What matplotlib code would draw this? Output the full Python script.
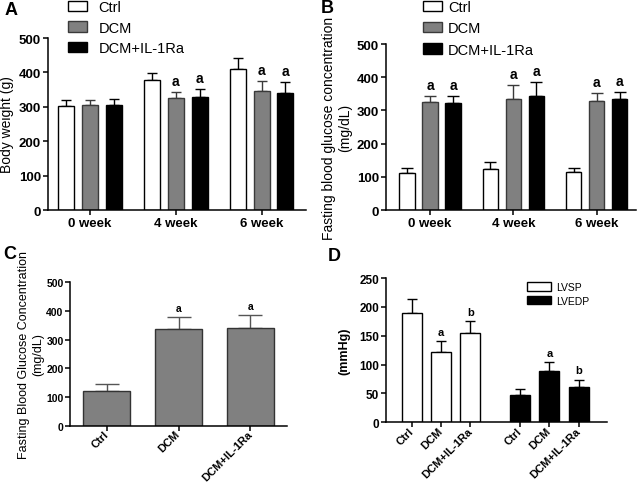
import matplotlib
matplotlib.use("Agg")
import matplotlib.pyplot as plt
import numpy as np

plt.rcParams['font.family'] = ['Liberation Sans', 'DejaVu Sans']

# ---------------- data ----------------
weeks = ["0 week", "4 week", "6 week"]
groups = ["Ctrl", "DCM", "DCM+IL-1Ra"]

bw_mean = {"Ctrl": [302, 377, 411], "DCM": [305, 325, 345], "DCM+IL-1Ra": [305, 328, 340]}
bw_err = {"Ctrl": [17, 22, 31], "DCM": [16, 18, 30], "DCM+IL-1Ra": [18, 23, 31]}
bw_sig = {"Ctrl": ["", "", ""], "DCM": ["", "a", "a"], "DCM+IL-1Ra": ["", "a", "a"]}

glu_mean = {"Ctrl": [112, 122, 113], "DCM": [325, 335, 329], "DCM+IL-1Ra": [323, 342, 333]}
glu_err = {"Ctrl": [16, 22, 15], "DCM": [19, 42, 23], "DCM+IL-1Ra": [21, 43, 23]}
glu_sig = {"Ctrl": ["", "", ""], "DCM": ["a", "a", "a"], "DCM+IL-1Ra": ["a", "a", "a"]}

c_labels = ["Ctrl", "DCM", "DCM+IL-1Ra"]
c_mean = [122, 336, 342]
c_err = [23, 44, 45]
c_sig = ["", "a", "a"]

d_labels = ["Ctrl", "DCM", "DCM+IL-1Ra"]
lvsp_mean = [189, 121, 155]
lvsp_err = [25, 20, 21]
lvsp_sig = ["", "a", "b"]
lvedp_mean = [47, 89, 62]
lvedp_err = [10, 15, 12]
lvedp_sig = ["", "a", "b"]

# ---------------- styles ----------------
GRAY = "#808080"
fill = {"Ctrl": "white", "DCM": GRAY, "DCM+IL-1Ra": "black"}
edge = {"Ctrl": "black", "DCM": "#3a3a3a", "DCM+IL-1Ra": "black"}
ecol = {"Ctrl": "black", "DCM": "#3a3a3a", "DCM+IL-1Ra": "black"}

W, H = 638, 489
fig = plt.figure(figsize=(W / 100, H / 100), dpi=100)


def px_axes(l, t, r, b):
    return fig.add_axes([l / W, 1 - b / H, (r - l) / W, (b - t) / H])


def style_axes(ax, ticksize, pad=1.5):
    for s in ["top", "right"]:
        ax.spines[s].set_visible(False)
    for s in ["left", "bottom"]:
        ax.spines[s].set_linewidth(1.1)
    ax.tick_params(axis="both", direction="out", length=3.6, width=1.1,
                   labelsize=ticksize, pad=pad)
    for lab in ax.get_yticklabels() + ax.get_xticklabels():
        lab.set_fontweight("bold")


def grouped(ax, means, errs, sigs, capsize, sigsize):
    offs = [-0.276, 0, 0.276]
    x = np.arange(len(weeks))
    for g, o in zip(groups, offs):
        ax.bar(x + o, means[g], width=0.186, color=fill[g], edgecolor=edge[g],
               linewidth=1.0, zorder=2)
        ax.errorbar(x + o, means[g], yerr=[np.zeros(len(weeks)), errs[g]],
                    fmt="none", ecolor=ecol[g], elinewidth=1.0, capsize=capsize,
                    capthick=1.0, zorder=1)
        for xi, m, e, s in zip(x + o, means[g], errs[g], sigs[g]):
            if s:
                ax.annotate(s, (xi, m + e), xytext=(0, 3), textcoords="offset points",
                            ha="center", va="bottom", fontsize=sigsize,
                            fontweight="bold")
    ax.set_xticks(x)
    ax.set_xticklabels(weeks)
    ax.set_ylim(0, 500)
    ax.set_yticks(range(0, 501, 100))


# ---------------- Panel A ----------------
axA = px_axes(48, 39, 306, 211)
grouped(axA, bw_mean, bw_err, bw_sig, 3.4, 10)
axA.set_xlim(-0.49, 2.517)
axA.set_ylabel("Body weight (g)", fontsize=10, labelpad=3)
style_axes(axA, 9.5)
hA = [plt.Rectangle((0, 0), 1, 1, facecolor=fill[g], edgecolor=edge[g], linewidth=1.0) for g in groups]
fig.legend(hA, groups, loc="upper left", bbox_to_anchor=(68 / W, 1 - 1 / H),
           frameon=False, fontsize=10.5, handlelength=1.3, handleheight=0.7,
           labelspacing=0.45, handletextpad=0.8, borderpad=0, borderaxespad=0)
fig.text(5 / W, 1 - 2 / H, "A", fontsize=13, fontweight="bold", va="top", ha="left")

# ---------------- Panel B ----------------
axB = px_axes(386, 45, 636, 211)
grouped(axB, glu_mean, glu_err, glu_sig, 4, 10)
axB.set_xlim(-0.528, 2.473)
axB.set_ylabel("Fasting blood glucose concentration\n(mg/dL)", fontsize=10, labelpad=3)
style_axes(axB, 9.5)
hB = [plt.Rectangle((0, 0), 1, 1, facecolor=fill[g], edgecolor=edge[g], linewidth=1.0) for g in groups]
fig.legend(hB, groups, loc="upper left", bbox_to_anchor=(423 / W, 1 - 1 / H),
           frameon=False, fontsize=10.5, handlelength=1.3, handleheight=0.7,
           labelspacing=0.5, handletextpad=0.4, borderpad=0, borderaxespad=0)
fig.text(321 / W, 1 - 0 / H, "B", fontsize=13, fontweight="bold", va="top", ha="left")

# ---------------- Panel C ----------------
axC = px_axes(70, 283, 287, 427)
xc = np.arange(len(c_labels))
axC.bar(xc, c_mean, width=0.66, color=GRAY, edgecolor="#333333", linewidth=1.0, zorder=2)
axC.errorbar(xc, c_mean, yerr=[np.zeros(len(xc)), c_err], fmt="none", ecolor="#555555",
             elinewidth=1.0, capsize=8.6, capthick=1.0, zorder=1)
for xi, m, e, s in zip(xc, c_mean, c_err, c_sig):
    if s:
        axC.annotate(s, (xi, m + e), xytext=(0, 2.5), textcoords="offset points",
                     ha="center", va="bottom", fontsize=7.5, fontweight="bold")
axC.set_xlim(-0.51, 2.51)
axC.set_ylim(0, 500)
axC.set_yticks(range(0, 501, 100))
axC.set_xticks(xc)
axC.set_xticklabels(c_labels, rotation=45, ha="right", va="center", rotation_mode="anchor")
axC.set_ylabel("Fasting Blood Glucose Concentration\n(mg/dL)", fontsize=9,
               linespacing=1.25)
axC.yaxis.set_label_coords(-0.118, 0.5)
style_axes(axC, 7.5, pad=1)
for lab in axC.get_xticklabels():
    lab.set_fontsize(8)
fig.text(3 / W, 1 - 246 / H, "C", fontsize=13, fontweight="bold", va="top", ha="left")

# ---------------- Panel D ----------------
axD = px_axes(386, 279, 606.7, 423.3)
xs = np.arange(3)
xe = np.arange(3) + 3.7
axD.bar(xs, lvsp_mean, width=0.68, color="white", edgecolor="black", linewidth=1.0,
        zorder=2, label="LVSP")
axD.errorbar(xs, lvsp_mean, yerr=[np.zeros(3), lvsp_err], fmt="none", ecolor="black",
             elinewidth=1.0, capsize=3.6, capthick=1.0, zorder=1)
axD.bar(xe, lvedp_mean, width=0.68, color="black", edgecolor="black", linewidth=1.0,
        zorder=2, label="LVEDP")
axD.errorbar(xe, lvedp_mean, yerr=[np.zeros(3), lvedp_err], fmt="none", ecolor="black",
             elinewidth=1.0, capsize=3.6, capthick=1.0, zorder=1)
for xx, mm, ee, ss in [(xs, lvsp_mean, lvsp_err, lvsp_sig), (xe, lvedp_mean, lvedp_err, lvedp_sig)]:
    for xi, m, e, s in zip(xx, mm, ee, ss):
        if s:
            axD.annotate(s, (xi, m + e), xytext=(0, 3), textcoords="offset points",
                         ha="center", va="bottom", fontsize=8, fontweight="bold")
axD.set_xlim(-0.88, 6.66)
axD.set_ylim(0, 250)
axD.set_yticks(range(0, 251, 50))
axD.set_xticks(np.concatenate([xs, xe]))
axD.set_xticklabels(d_labels + d_labels, rotation=45, ha="right", va="center",
                    rotation_mode="anchor")
axD.set_ylabel("(mmHg)", fontsize=9, fontweight="bold", labelpad=6)
style_axes(axD, 8.5)
for lab in axD.get_xticklabels():
    lab.set_fontsize(8)
axD.legend(loc="upper left", bbox_to_anchor=((527 - 386) / 220.7, 1 - (283 - 279) / 144.3),
           frameon=False, fontsize=7.5, handlelength=2.3, handleheight=0.9,
           labelspacing=0.35, handletextpad=0.5, borderpad=0, borderaxespad=0)
fig.text(328 / W, 1 - 248 / H, "D", fontsize=13, fontweight="bold", va="top", ha="left")

fig.savefig("out.png", dpi=100)
